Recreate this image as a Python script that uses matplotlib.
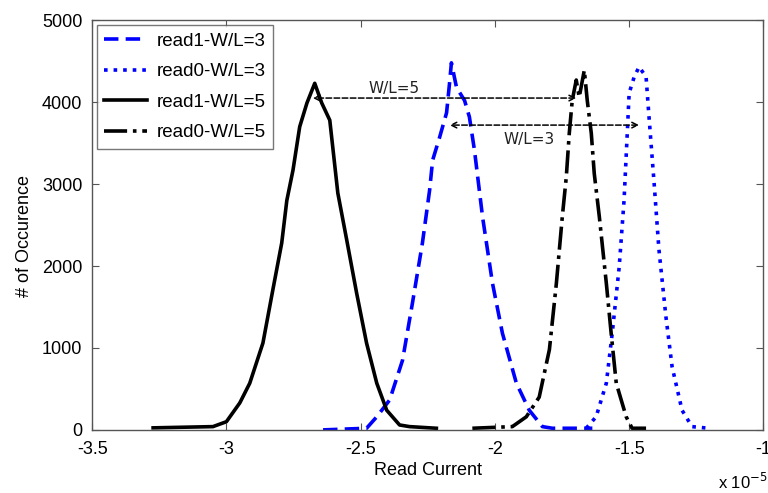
import matplotlib.pyplot as plt

# === DATA (read current in units of 1e-5) ===
r1_w3_x = [-2.64, -2.478, -2.44, -2.392, -2.344, -2.307, -2.27, -2.243, -2.232, -2.206, -2.18,
           -2.169, -2.162, -2.143, -2.113, -2.095, -2.076, -2.046, -2.009, -1.972, -1.92,
           -1.872, -1.823, -1.786, -1.637]
r1_w3_y = [0, 20, 160, 365, 850, 1550, 2280, 2930, 3290, 3570, 3870,
           4230, 4480, 4180, 4020, 3820, 3410, 2600, 1790, 1180, 570,
           240, 40, 20, 20]

r0_w3_x = [-1.66, -1.623, -1.585, -1.563, -1.537, -1.519, -1.507, -1.5, -1.481, -1.463,
           -1.437, -1.426, -1.407, -1.389, -1.363, -1.34, -1.303, -1.266, -1.203]
r0_w3_y = [20, 160, 570, 1180, 1990, 2800, 3620, 4110, 4310, 4430,
           4310, 3820, 3010, 2200, 1380, 770, 240, 40, 20]

r1_w5_x = [-3.273, -3.05, -3.0, -2.95, -2.913, -2.864, -2.827, -2.794, -2.775, -2.752, -2.727,
           -2.70, -2.671, -2.645, -2.615, -2.585, -2.552, -2.515, -2.478, -2.44, -2.403,
           -2.355, -2.318, -2.218]
r1_w5_y = [25, 40, 100, 330, 570, 1060, 1710, 2280, 2800, 3170, 3700,
           3990, 4230, 3990, 3780, 2890, 2320, 1670, 1060, 570, 240,
           60, 40, 20]

r0_w5_x = [-2.084, -1.935, -1.883, -1.835, -1.797, -1.771, -1.749, -1.734, -1.723, -1.712,
           -1.697, -1.686, -1.667, -1.656, -1.641, -1.63, -1.611, -1.585, -1.567, -1.548,
           -1.511, -1.489, -1.437]
r0_w5_y = [20, 40, 160, 400, 980, 1790, 2600, 3090, 3620, 4020,
           4270, 4060, 4390, 4020, 3620, 3130, 2600, 1790, 1180, 570,
           160, 20, 20]

# gap annotations: (x_left, x_right, y, label)
gap_w5 = (-2.678, -1.697, 4050, "W/L=5")
gap_w3 = (-2.169, -1.463, 3720, "W/L=3")

plt.rcParams['font.family'] = ['Liberation Sans', 'DejaVu Sans']

fig = plt.figure(figsize=(7.68, 4.93), dpi=100)
ax = fig.add_axes([0.12, 0.128, 0.874, 0.831])

blue = '#0000ff'
ax.plot(r1_w3_x, r1_w3_y, '--', color=blue, lw=2.6, dashes=(4, 2), label='read1-W/L=3')
ax.plot(r0_w3_x, r0_w3_y, ':', color=blue, lw=2.6, label='read0-W/L=3')
ax.plot(r1_w5_x, r1_w5_y, '-', color='black', lw=2.6, label='read1-W/L=5')
ax.plot(r0_w5_x, r0_w5_y, '-.', color='black', lw=2.6, label='read0-W/L=5')

# double arrows marking the read margin
for xl, xr, y, lab in [gap_w5, gap_w3]:
    ax.annotate('', xy=(xl, y), xytext=(xr, y),
                arrowprops=dict(arrowstyle='<->', ls='--', lw=1.1, color='black',
                                shrinkA=0, shrinkB=0))
ax.text(-2.374, gap_w5[2] + 30, gap_w5[3], ha='center', va='bottom',
        fontsize=11, family='DejaVu Sans', color='#222222')
ax.text(-1.872, gap_w3[2] - 80, gap_w3[3], ha='center', va='top',
        fontsize=11, family='DejaVu Sans', color='#222222')

ax.set_xlim(-3.5, -1)
ax.set_ylim(0, 5000)
ax.set_xticks([-3.5, -3, -2.5, -2, -1.5, -1])
ax.set_xticklabels(['-3.5', '-3', '-2.5', '-2', '-1.5', '-1'])
ax.set_yticks([0, 1000, 2000, 3000, 4000, 5000])
ax.tick_params(direction='in', top=True, right=True, labelsize=13, length=5,
               color='#555555')
ax.tick_params(axis='x', pad=8)
ax.tick_params(axis='y', pad=7)
for s in ax.spines.values():
    s.set_color('#555555')
    s.set_linewidth(1.0)

ax.set_xlabel('Read Current', fontsize=13, labelpad=3)
ax.set_ylabel('# of Occurence', fontsize=13)
ax.yaxis.set_label_coords(-0.088, 0.473)
fig.text(0.935, 0.008, r'x 10$^{-5}$', fontsize=12)

leg = ax.legend(loc='upper left', fontsize=13.5, frameon=True, fancybox=False,
                handlelength=2.3, borderaxespad=0.25, labelspacing=0.72,
                handletextpad=0.5, borderpad=0.4)
leg.get_frame().set_edgecolor('#555555')
leg.get_frame().set_linewidth(1.0)

plt.savefig('out.png', dpi=100)
